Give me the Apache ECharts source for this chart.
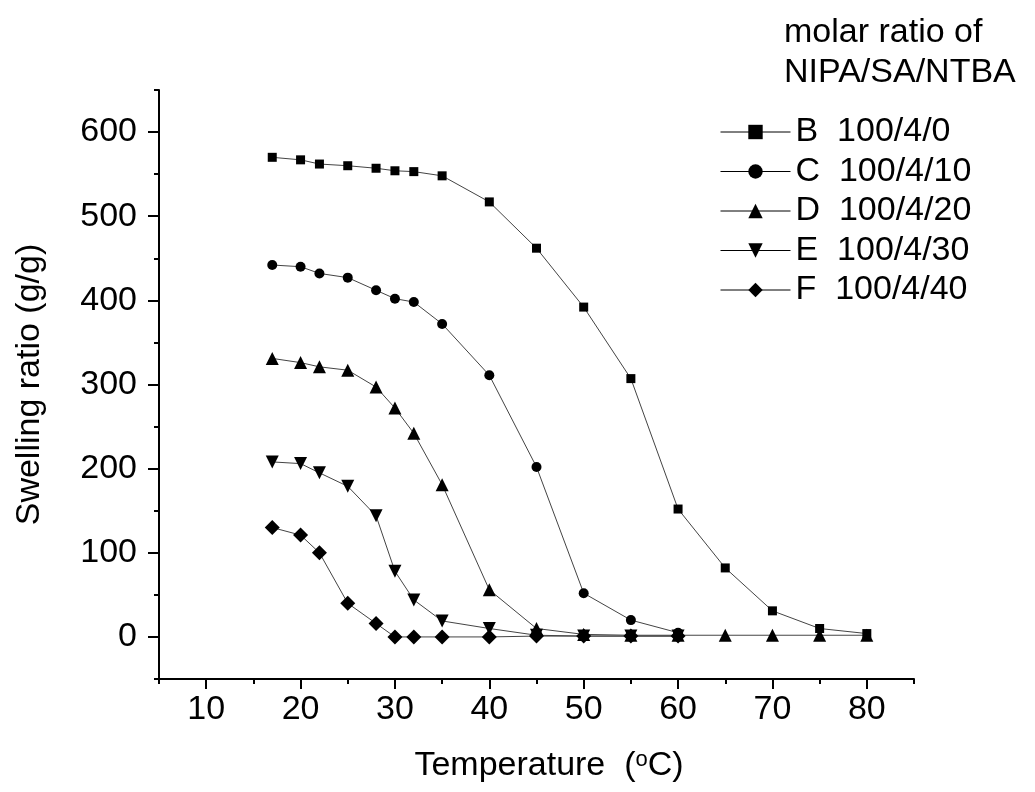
<!DOCTYPE html>
<html>
<head>
<meta charset="utf-8">
<title>Swelling ratio vs temperature</title>
<script src="https://cdn.jsdelivr.net/npm/echarts@6/dist/echarts.min.js"></script>
<style>
  html, body { margin: 0; padding: 0; background: #fff; }
  #chart { width: 1035px; height: 792px; }
</style>
</head>
<body>
<div id="chart"></div>
<script>
// temperatures (°C) shared by all samples
var temps = [17, 20, 22, 25, 28, 30, 32, 35, 40, 45, 50, 55, 60, 65, 70, 75, 80];

// swelling ratio (g/g)
var sampleB = [570, 567, 562, 560, 557, 554, 553, 548, 517, 462, 392, 307, 152, 82, 31, 10, 4];
var sampleC = [442, 440, 432, 427, 412, 402, 398, 372, 311, 202, 52, 20, 5];
var sampleD = [331, 326, 321, 317, 297, 272, 242, 181, 56, 10, 3, 2, 2, 2, 2, 2, 2];
var sampleE = [208, 206, 195, 179, 144, 78, 44, 19, 10, 2, 1, 1, 1];
var sampleF = [130, 121, 100, 40, 16, 0, 0, 0, 0, 1, 1, 1, 1];

var names = ['B  100/4/0', 'C  100/4/10', 'D  100/4/20', 'E  100/4/30', 'F  100/4/40'];

// axis ticks / labels
var xLabels = [10, 20, 30, 40, 50, 60, 70, 80];
var xMinor = [5, 15, 25, 35, 45, 55, 65, 75, 85];
var yLabels = [0, 100, 200, 300, 400, 500, 600];
var yMinor = [-50, 50, 150, 250, 350, 450, 550, 650];

var FONT = 'Liberation Sans, Arial, sans-serif';

function pairs(vals) {
    return vals.map(function (v, i) { return [temps[i], v]; });
}

function makeSeries(name, vals, symbol, size, rotate) {
    return {
        name: name,
        type: 'line',
        data: pairs(vals),
        symbol: symbol,
        symbolSize: size,
        symbolRotate: rotate || 0,
        showAllSymbol: true,
        lineStyle: { color: '#444', width: 1 },
        itemStyle: { color: '#000' },
        emphasis: { disabled: true }
    };
}

var chart = echarts.init(document.getElementById('chart'));

chart.setOption({
    backgroundColor: '#fff',
    animation: false,
    textStyle: { fontFamily: FONT },
    title: {
        text: 'molar ratio of\nNIPA/SA/NTBA',
        left: 779,
        top: 8,
        textStyle: { fontFamily: FONT, fontSize: 34, fontWeight: 'normal', color: '#000', lineHeight: 40 }
    },
    legend: {
        orient: 'vertical',
        left: 715,
        top: 110,
        itemWidth: 70,
        itemHeight: 18,
        itemGap: 5.5,
        data: names,
        lineStyle: { color: '#000', width: 1 },
        textStyle: { fontFamily: FONT, fontSize: 34, color: '#000', lineHeight: 34 },
        selectedMode: false
    },
    grid: {
        left: 159,
        top: 90,
        width: 755,
        height: 589,
        containLabel: false,
        outerBoundsMode: 'none'
    },
    xAxis: [{
        type: 'value',
        min: 5,
        max: 85,
        position: 'bottom',
        name: 'Temperature  ({sup|o}C)',
        nameLocation: 'middle',
        nameGap: 70,
        nameTextStyle: {
            fontFamily: FONT, fontSize: 34, color: '#000', padding: [0, 0, 0, 25],
            rich: {
                sup: { fontFamily: FONT, fontSize: 22, color: '#000', verticalAlign: 'top', lineHeight: 22 }
            }
        },
        splitLine: { show: false },
        axisLine: { show: true, onZero: false, lineStyle: { color: '#000', width: 2 } },
        axisTick: { show: true, customValues: xLabels, length: 10, lineStyle: { color: '#000', width: 2 } },
        axisLabel: { customValues: xLabels, fontFamily: FONT, fontSize: 34, color: '#000', margin: 14 }
    }, {
        type: 'value',
        min: 5,
        max: 85,
        position: 'bottom',
        splitLine: { show: false },
        axisLine: { show: false, onZero: false },
        axisTick: { show: true, customValues: xMinor, length: 5, lineStyle: { color: '#000', width: 2 } },
        axisLabel: { show: false }
    }],
    yAxis: [{
        type: 'value',
        min: -50,
        max: 650,
        position: 'left',
        name: 'Swelling ratio (g/g)',
        nameLocation: 'middle',
        nameGap: 112,
        nameTextStyle: { fontFamily: FONT, fontSize: 34, color: '#000' },
        splitLine: { show: false },
        axisLine: { show: true, onZero: false, lineStyle: { color: '#000', width: 2 } },
        axisTick: { show: true, customValues: yLabels, length: 11, lineStyle: { color: '#000', width: 2 } },
        axisLabel: { customValues: yLabels, fontFamily: FONT, fontSize: 34, color: '#000', margin: 22 }
    }, {
        type: 'value',
        min: -50,
        max: 650,
        position: 'left',
        splitLine: { show: false },
        axisLine: { show: false, onZero: false },
        axisTick: { show: true, customValues: yMinor, length: 5, lineStyle: { color: '#000', width: 2 } },
        axisLabel: { show: false }
    }],
    series: [
        makeSeries(names[0], sampleB, 'rect', 9),
        makeSeries(names[1], sampleC, 'circle', 10),
        makeSeries(names[2], sampleD, 'triangle', 13),
        makeSeries(names[3], sampleE, 'triangle', 13, 180),
        makeSeries(names[4], sampleF, 'diamond', 15)
    ]
});

window.addEventListener('resize', function () {
    chart.resize();
});
</script>
</body>
</html>
